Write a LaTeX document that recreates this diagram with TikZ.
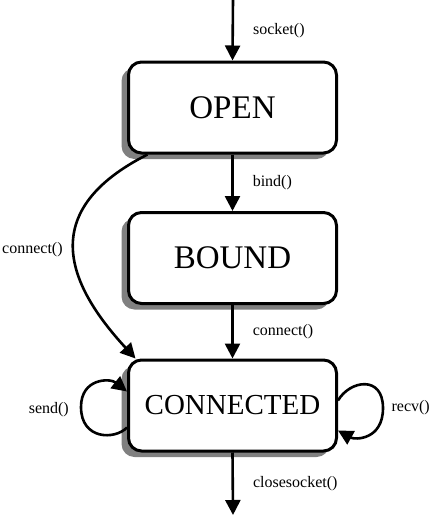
\documentclass[tikz,border=0pt]{standalone}
\usepackage{fontspec}
\setmainfont{Liberation Serif}
\usetikzlibrary{arrows.meta,shadows}
\begin{document}
\begin{tikzpicture}[x=1pt,y=-1pt,
  state/.style={draw, line width=3pt, rounded corners=13pt, fill=white,
    minimum width=208pt, minimum height=91pt, inner sep=0pt,
    font=\fontsize{33}{36}\selectfont,
    drop shadow={shadow xshift=-7pt, shadow yshift=-6pt, fill=black!50, opacity=1}},
  conn/.style={line width=2.6pt, -{Triangle[length=15pt,width=15pt]}},
  lbl/.style={inner sep=0pt, font=\fontsize{16}{19}\selectfont}
]
\useasboundingbox (0,0) rectangle (431,515);
\node[state] (OPEN) at (232.5,107.5) {OPEN};
\node[state] (BOUND) at (232.5,258) {BOUND};
\node[state, font=\fontsize{29}{32}\selectfont] (CONNECTED) at (232.5,405.5) {CONNECTED};
\coordinate (top) at (233,0);
\coordinate (bottom) at (233,515);

\draw[conn] (top) -- node[lbl, anchor=west, xshift=19pt] (lsock) {socket()} (OPEN.north);
\draw[conn] (OPEN.south) -- node[lbl, anchor=west, xshift=19pt] (lbind) {bind()} (BOUND.north);
\draw[conn] (BOUND.south) -- node[lbl, anchor=west, xshift=19pt] (lconn) {connect()} (CONNECTED.north);
\draw[conn] (CONNECTED.south) -- node[lbl, anchor=west, xshift=19pt] (lclose) {closesocket()} (bottom);

\draw[conn] ([xshift=-85pt]OPEN.south) .. controls (38,210) and (65,282) .. ([xshift=-97pt]CONNECTED.north);
\node[lbl, anchor=west] (lconn2) at (2,250) {connect()};

\draw[conn] ([yshift=-22pt]CONNECTED.west) .. controls (115,440) and (81,440) .. (81,407)
  .. controls (81,378) and (110,378) .. ([yshift=14pt]CONNECTED.west);
\node[lbl, anchor=east] (lsend) at (69,410) {send()};

\draw[conn] ([yshift=5pt]CONNECTED.east) .. controls (350,380) and (383,375) .. (383,408)
  .. controls (383,440) and (355,440) .. ([yshift=-25pt]CONNECTED.east);
\node[lbl, anchor=east] (lrecv) at (430,408) {recv()};
\end{tikzpicture}
\end{document}
